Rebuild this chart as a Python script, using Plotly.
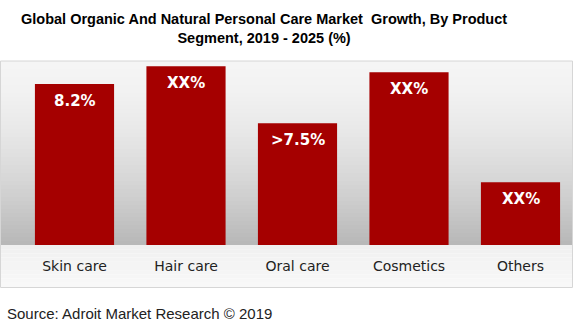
import plotly.graph_objects as go

categories = ["Skin care", "Hair care", "Oral care", "Cosmetics", "Others"]
values = [8.2, 9.1, 6.2, 8.8, 3.2]
bar_labels = ["8.2%", "XX%", ">7.5%", "XX%", "XX%"]

W, H = 573, 321
L, R, T, B = 18, 0, 61, 76
PW, PH = W - L - R, H - T - B


def xp(px):
    return (px - L) / PW


def yp(py):
    return (T + PH - py) / PH


fig = go.Figure()
fig.add_trace(go.Bar(
    x=categories, y=values,
    marker=dict(color="#A50000", line=dict(width=0)),
    hoverinfo="skip",
))

shapes = []
# wall gradient
wall_top, wall_bot = 61, 245
n = 46
for i in range(n):
    t0 = i / n
    t1 = (i + 1) / n
    tm = (t0 + t1) / 2
    c = int(round(245 - 62 * tm ** 1.6))
    shapes.append(dict(type="rect", xref="paper", yref="paper", layer="below",
                       x0=xp(0), x1=xp(573),
                       y0=yp(wall_top + t0 * (wall_bot - wall_top)),
                       y1=yp(wall_top + t1 * (wall_bot - wall_top)),
                       fillcolor=f"rgb({c},{c},{c})", line=dict(width=0)))
# floor
floor_bot = 287
m = 10
for i in range(m):
    t0 = i / m
    t1 = (i + 1) / m
    c = int(round(240 + 8 * (t0 + t1) / 2))
    shapes.append(dict(type="rect", xref="paper", yref="paper", layer="below",
                       x0=xp(0), x1=xp(573),
                       y0=yp(wall_bot + t0 * (floor_bot - wall_bot)),
                       y1=yp(wall_bot + t1 * (floor_bot - wall_bot)),
                       fillcolor=f"rgb({c},{c},{c})", line=dict(width=0)))
# border
shapes.append(dict(type="rect", xref="paper", yref="paper", layer="below",
                   x0=xp(0.5), x1=xp(572.5), y0=yp(61), y1=yp(287.5),
                   fillcolor="rgba(0,0,0,0)", line=dict(width=1, color="#d6d6d6")))

annotations = []
annotations.append(dict(x=xp(264), y=yp(28.5), xref="paper", yref="paper",
                        text="<b>Global Organic And Natural Personal Care Market  Growth, By Product<br>Segment, 2019 - 2025 (%)</b>",
                        showarrow=False, xanchor="center", yanchor="middle", align="center",
                        font=dict(family="Liberation Sans, Arial", size=14.5, color="black")))
for c, v, lab in zip(categories, values, bar_labels):
    annotations.append(dict(x=c, y=v, xref="x", yref="y", text=lab,
                            showarrow=False, yanchor="top", yshift=-6,
                            font=dict(family="DejaVu Sans", size=15, color="white", weight="bold")))
annotations.append(dict(x=xp(5), y=yp(313), xref="paper", yref="paper",
                        text="Source: Adroit Market Research © 2019",
                        showarrow=False, xanchor="left", yanchor="middle",
                        font=dict(family="Liberation Sans, Arial", size=15, color="#222222")))

fig.update_layout(
    width=W, height=H,
    margin=dict(l=L, r=R, t=T, b=B, pad=0),
    paper_bgcolor="white", plot_bgcolor="rgba(0,0,0,0)",
    bargap=0.29,
    showlegend=False,
    shapes=shapes,
    annotations=annotations,
    xaxis=dict(range=[(18 - 74.5) / 111.5, (573 - 74.5) / 111.5], showgrid=False, zeroline=False,
               showline=False, ticks="", ticklabelstandoff=11,
               tickfont=dict(family="DejaVu Sans", size=14, color="#222222"), fixedrange=True),
    yaxis=dict(range=[0, 9.37], visible=False, fixedrange=True),
)

fig.write_html("out.html", config={"displayModeBar": False})
